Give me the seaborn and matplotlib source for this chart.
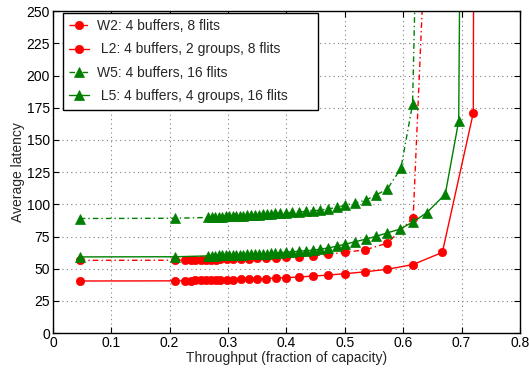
import matplotlib
matplotlib.use("Agg")
import matplotlib.pyplot as plt
import seaborn as sns
import numpy as np
import pandas as pd

# ---- data ----
red_x = [0.046, 0.209, 0.227, 0.236, 0.244, 0.253, 0.262, 0.270, 0.279, 0.287,
         0.298, 0.309, 0.322, 0.335, 0.349, 0.365, 0.382, 0.400, 0.422, 0.445,
         0.472, 0.501, 0.534, 0.573, 0.617]
w2_x = red_x + [0.640]
w2_y = [56.5, 56.6, 56.7, 56.7, 56.8, 56.8, 56.9, 57.0, 57.1, 57.2,
        57.3, 57.4, 57.6, 57.8, 58.0, 58.3, 58.6, 59.0, 59.5, 60.2,
        61.2, 62.9, 64.6, 69.9, 89.5, 330.0]
l2_x = red_x + [0.667, 0.720, 0.722]
l2_y = [40.5, 40.6, 40.7, 40.8, 40.9, 41.0, 41.0, 41.1, 41.2, 41.3,
        41.4, 41.5, 41.7, 41.9, 42.1, 42.4, 42.7, 43.1, 43.6, 44.3,
        45.1, 46.2, 47.6, 49.6, 53.3, 62.7, 171.0, 600.0]

green_x = [0.046, 0.209, 0.266, 0.272, 0.278, 0.284, 0.290, 0.296, 0.302, 0.308,
           0.314, 0.320, 0.326, 0.332, 0.339, 0.346, 0.353, 0.360, 0.367, 0.374,
           0.381, 0.389, 0.400, 0.410, 0.422, 0.433, 0.445, 0.458, 0.472, 0.486,
           0.501, 0.517, 0.536, 0.553, 0.573]
w5_x = green_x + [0.596, 0.616, 0.632]
w5_y = [89.0, 89.2, 89.8, 90.0, 90.1, 90.3, 90.4, 90.6, 90.7, 90.9,
        91.0, 91.2, 91.3, 91.5, 91.7, 91.9, 92.1, 92.3, 92.5, 92.7,
        92.9, 93.1, 93.4, 93.7, 94.2, 94.5, 95.0, 95.5, 96.5, 97.6,
        99.4, 101.0, 103.3, 107.1, 112.0, 127.9, 177.8, 500.0]
l5_x = green_x + [0.594, 0.617, 0.640, 0.672, 0.695, 0.702]
l5_y = [59.2, 59.3, 60.0, 60.1, 60.2, 60.3, 60.4, 60.5, 60.6, 60.7,
        60.8, 60.9, 61.0, 61.1, 61.2, 61.3, 61.5, 61.6, 61.8, 61.9,
        62.1, 62.3, 62.9, 63.1, 63.7, 63.9, 64.4, 65.2, 66.2, 67.5,
        69.1, 70.9, 73.0, 75.1, 77.9, 80.7, 86.4, 93.4, 107.9, 164.8, 600.0]

labels = ["W2: 4 buffers, 8 flits",
          " L2: 4 buffers, 2 groups, 8 flits",
          "W5: 4 buffers, 16 flits",
          " L5: 4 buffers, 4 groups, 16 flits"]
x_ticks = [0, 0.1, 0.2, 0.3, 0.4, 0.5, 0.6, 0.7, 0.8]
x_tick_labels = ["0", "0.1", "0.2", "0.3", "0.4", "0.5", "0.6", "0.7", "0.8"]
y_ticks = [0, 25, 50, 75, 100, 125, 150, 175, 200, 225, 250]

sns.set_theme(style="ticks")
plt.rcParams['font.family'] = ['Liberation Sans', 'DejaVu Sans']

fig = plt.figure(figsize=(5.29, 3.71), dpi=100)
ax = fig.add_axes([0.100, 0.102, 0.883, 0.868])

RED = "#ff0000"
GREEN = "#007f00"
dashdot = (0, (4, 2.2, 1, 2.2))

series = [
    (w2_x, w2_y, labels[0], RED, "o", dashdot, 6.0),
    (l2_x, l2_y, labels[1], RED, "o", "-", 6.0),
    (w5_x, w5_y, labels[2], GREEN, "^", dashdot, 6.5),
    (l5_x, l5_y, labels[3], GREEN, "^", "-", 6.5),
]
for xs, ys, lab, col, mk, ls, ms in series:
    df = pd.DataFrame({"x": xs, "y": ys})
    sns.lineplot(data=df, x="x", y="y", ax=ax, color=col, marker=mk,
                 linestyle=ls, markersize=ms, markeredgewidth=0.5,
                 markeredgecolor=col, linewidth=1.0, sort=False,
                 estimator=None, label=lab)

ax.set_xlim(0, 0.8)
ax.set_ylim(0, 250)
ax.set_xticks(x_ticks)
ax.set_xticklabels(x_tick_labels)
ax.set_yticks(y_ticks)
ax.grid(True, linestyle=(0, (1, 3)), color="#808080", linewidth=0.8)
ax.tick_params(direction="in", length=4, width=0.8, top=True, right=True,
               labelsize=10, colors="black", pad=2)
for s in ax.spines.values():
    s.set_color("black")
    s.set_linewidth(1.0)
ax.set_xlabel("Throughput (fraction of capacity)", fontsize=10, labelpad=1)
ax.set_ylabel("Average latency", fontsize=10, labelpad=1)

leg = ax.legend(loc="upper left", bbox_to_anchor=(0.021, 0.0, 0.547, 0.995),
                mode="expand",
                borderaxespad=0, fontsize=10, frameon=True, fancybox=False,
                edgecolor="black", framealpha=1, handlelength=1.45,
                handletextpad=0.6, labelspacing=0.68, borderpad=0.45,
                numpoints=1)
leg.get_frame().set_linewidth(1.0)

fig.savefig("out.png", dpi=100)
